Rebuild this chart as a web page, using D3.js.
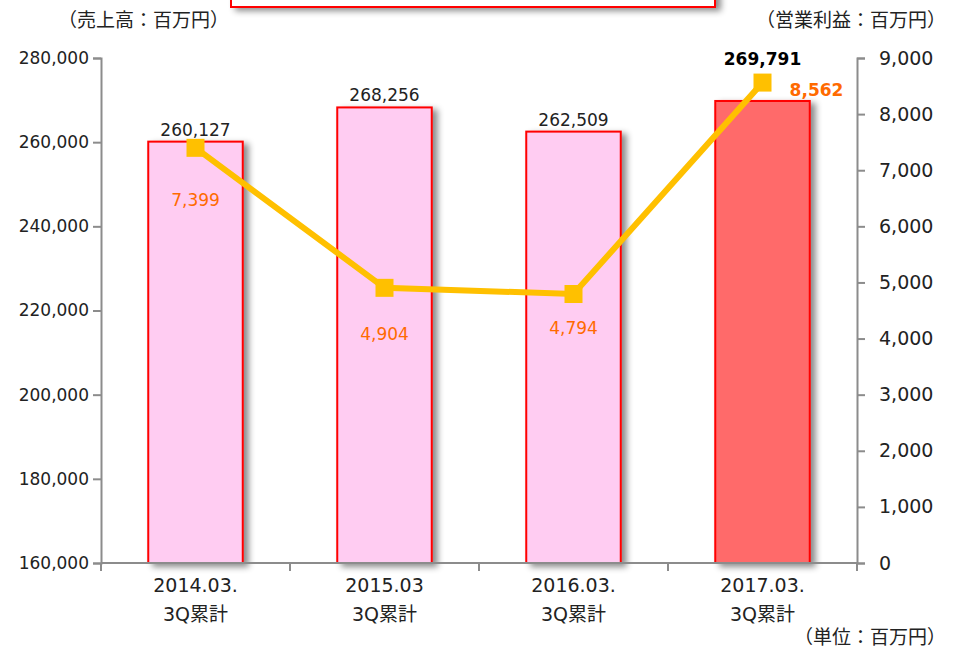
<!DOCTYPE html>
<html>
<head>
<meta charset="utf-8">
<script src="https://cdn.jsdelivr.net/npm/d3@7"></script>
<style>
  body { margin: 0; background: #fff; }
  svg { display: block; }
  .axis path, .axis line { stroke: #8c8c8c; stroke-width: 2; }
  .axis text { font-family: "DejaVu Sans", "Noto Sans CJK JP", sans-serif; font-size: 17px; fill: #222; }
  .note { font-family: "DejaVu Sans", "Noto Sans CJK JP", sans-serif; font-size: 17px; fill: #222; }
  .unit { font-family: "Noto Sans CJK JP", sans-serif; font-size: 19px; fill: #222; }
</style>
</head>
<body>
<div id="chart"></div>
<script>
// Chart data
const categories = ["2014.03.\n3Q累計", "2015.03\n3Q累計", "2016.03.\n3Q累計", "2017.03.\n3Q累計"];
const sales = [260127, 268256, 262509, 269791];
const profit = [7399, 4904, 4794, 8562];
const salesTicks = [160000, 180000, 200000, 220000, 240000, 260000, 280000];
const profitTicks = [0, 1000, 2000, 3000, 4000, 5000, 6000, 7000, 8000, 9000];

const w = 957, h = 650;
const margin = { top: 58, right: 100, bottom: 87, left: 101 };
const width = w - margin.left - margin.right;
const height = h - margin.top - margin.bottom;

const svg = d3.select("#chart").append("svg")
  .attr("width", w)
  .attr("height", h);

// Shadow filter
const defs = svg.append("defs");
const f = defs.append("filter").attr("id", "shadow")
  .attr("x", "-20%").attr("y", "-20%").attr("width", "150%").attr("height", "150%");
f.append("feDropShadow")
  .attr("dx", 5).attr("dy", 3).attr("stdDeviation", 3)
  .attr("flood-color", "#000").attr("flood-opacity", 0.45);

// Cut-off title box at the top
svg.append("rect")
  .attr("x", 231).attr("y", -30).attr("width", 484).attr("height", 37)
  .attr("fill", "#fff").attr("stroke", "#ff0000").attr("stroke-width", 2)
  .attr("filter", "url(#shadow)");

const g = svg.append("g")
  .attr("transform", "translate(" + margin.left + "," + margin.top + ")");

// Scales
const x = d3.scaleBand().domain(categories).range([0, width]).paddingInner(0.5).paddingOuter(0.25);
const xb = d3.scaleBand().domain(categories).range([0, width]);
const yL = d3.scaleLinear().domain([160000, 280000]).range([height, 0]);
const yR = d3.scaleLinear().domain([0, 9000]).range([height, 0]);

// Axes
const fmt = d3.format(",");
g.append("g").attr("class", "axis")
  .call(d3.axisLeft(yL).tickValues(salesTicks).tickFormat(fmt).tickSizeOuter(0).tickSize(8).tickPadding(4));

g.append("g").attr("class", "axis")
  .attr("transform", "translate(" + width + ",0)")
  .call(d3.axisRight(yR).tickValues(profitTicks).tickFormat(fmt).tickSizeOuter(0).tickSize(8).tickPadding(14))
  .selectAll("text").style("font-size", "19px");

// Bars
g.selectAll("rect.bar")
  .data(sales)
  .enter()
  .append("rect")
  .attr("class", "bar")
  .attr("x", (d, i) => x(categories[i]))
  .attr("y", d => yL(d))
  .attr("width", x.bandwidth())
  .attr("height", d => height - yL(d))
  .attr("fill", (d, i) => i === 3 ? "#ff6b6b" : "#ffccf2")
  .attr("stroke", "#ff0000")
  .attr("stroke-width", 2)
  .attr("filter", "url(#shadow)");

// Bottom axis (ticks at category boundaries)
const gx = g.append("g").attr("class", "axis")
  .attr("transform", "translate(0," + height + ")");
gx.append("line").attr("x1", 0).attr("x2", width).attr("y1", 0).attr("y2", 0);
gx.selectAll("line.tick")
  .data(d3.range(categories.length + 1))
  .enter()
  .append("line")
  .attr("x1", i => i * xb.step()).attr("x2", i => i * xb.step())
  .attr("y1", 0).attr("y2", 8);

const xl = gx.selectAll("text.cat")
  .data(categories)
  .enter()
  .append("text")
  .attr("class", "cat")
  .attr("text-anchor", "middle")
  .style("font-size", "19px")
  .attr("transform", d => "translate(" + (x(d) + x.bandwidth() / 2) + ",0)");
xl.selectAll("tspan")
  .data(d => d.split("\n"))
  .enter()
  .append("tspan")
  .attr("x", 0)
  .attr("y", (d, i) => 29 + i * 29)
  .text(d => d);

// Sales labels
g.selectAll("text.sales")
  .data(sales)
  .enter()
  .append("text")
  .attr("class", "note")
  .attr("text-anchor", "middle")
  .attr("x", (d, i) => x(categories[i]) + x.bandwidth() / 2)
  .attr("y", (d, i) => yL(d) - (i === 3 ? 36 : 6))
  .style("font-weight", (d, i) => i === 3 ? "bold" : "normal")
  .style("fill", (d, i) => i === 3 ? "#000" : "#222")
  .text(fmt);

// Profit line
const cx = (d, i) => x(categories[i]) + x.bandwidth() / 2;
const line = d3.line()
  .x((d, i) => cx(d, i))
  .y(d => yR(d));

g.append("path")
  .attr("d", line(profit))
  .attr("fill", "none")
  .attr("stroke", "#ffc000")
  .attr("stroke-width", 6);

g.selectAll("rect.marker")
  .data(profit)
  .enter()
  .append("rect")
  .attr("x", (d, i) => cx(d, i) - 9)
  .attr("y", d => yR(d) - 9)
  .attr("width", 18)
  .attr("height", 18)
  .attr("fill", "#ffc000");

// Profit labels
const pdx = [0, 0, 0, 54];
const pdy = [58, 52, 40, 13];
g.selectAll("text.profit")
  .data(profit)
  .enter()
  .append("text")
  .attr("class", "note")
  .attr("text-anchor", "middle")
  .attr("x", (d, i) => cx(d, i) + pdx[i])
  .attr("y", (d, i) => yR(d) + pdy[i])
  .style("font-weight", (d, i) => i === 3 ? "bold" : "normal")
  .style("fill", "#ff6a00")
  .text(fmt);

// Unit notes
svg.append("text").attr("class", "unit").attr("x", 58).attr("y", 27).text("（売上高：百万円）");
svg.append("text").attr("class", "unit").attr("x", 946).attr("y", 27).attr("text-anchor", "end").text("（営業利益：百万円）");
svg.append("text").attr("class", "unit").attr("x", 946).attr("y", 644).attr("text-anchor", "end").text("（単位：百万円）");
</script>
</body>
</html>
